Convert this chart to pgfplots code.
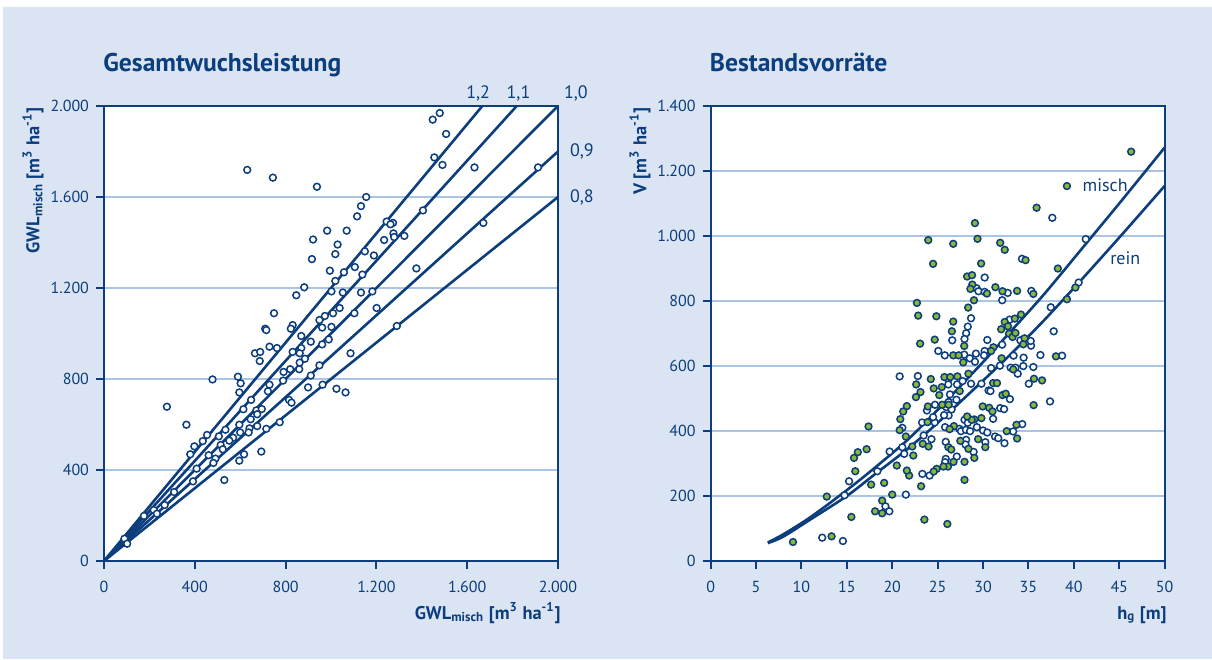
\documentclass[border=0pt]{standalone}
\usepackage{fontspec}
\setmainfont{PT Sans}
\usepackage{pgfplots}
\pgfplotsset{compat=1.18}

\definecolor{dblue}{RGB}{12,62,125}
\definecolor{gridblue}{RGB}{170,196,228}
\definecolor{bgblue}{RGB}{218,228,242}
\definecolor{mgreen}{RGB}{138,184,54}

\pgfplotsset{
  panel/.style={
    scale only axis, width=227bp, height=227.5bp,
    axis line style={dblue, line width=1bp},
    axis background/.style={fill=white},
    tick align=outside, major tick length=4bp,
    every tick/.style={dblue, line width=1bp},
    xtick pos=left, ytick pos=left,
    ymajorgrids, grid style={gridblue, line width=1bp},
    tick label style={font=\fontsize{8bp}{9bp}\selectfont, text=dblue},
    xticklabel style={yshift=-2.5bp},
    clip=false,
  },
  wmark/.style={only marks, mark=*, mark size=1.7bp,
    mark options={fill=white, draw=dblue, line width=0.75bp}},
  gmark/.style={only marks, mark=*, mark size=1.7bp,
    mark options={fill=mgreen, draw=dblue, line width=0.75bp}},
  fitline/.style={dblue, line width=1.3bp, no marks},
}
\tikzset{lbl/.style={font=\fontsize{9bp}{10bp}\selectfont, text=dblue}}

\begin{document}
\begin{tikzpicture}[x=0.5bp,y=0.5bp]
\fill[white] (0,0) rectangle (1212,659);
\fill[bgblue] (3,0) rectangle (1212,652);
\useasboundingbox (0,0) rectangle (1212,659);

% --- Gesamtwuchsleistung ---
\begin{axis}[panel, at={(52bp,49bp)},
  xmin=0, xmax=2000, ymin=0, ymax=2000,
  xtick={0,400,800,1200,1600,2000}, xticklabels={0,400,800,1.200,1.600,2.000},
  ytick={0,400,800,1200,1600,2000}, yticklabels={0,400,800,1.200,1.600,2.000}]
\addplot[fitline] coordinates {(0,0) (1666.7,2000)};
\addplot[fitline] coordinates {(0,0) (1818.2,2000)};
\addplot[fitline] coordinates {(0,0) (2000,2000)};
\addplot[fitline] coordinates {(0,0) (2000,1800)};
\addplot[fitline] coordinates {(0,0) (2000,1600)};
\addplot[wmark] coordinates {
(631,1719) (744,1685) (938,1645) (1155,1600) (1132,1560) (1115,1515)
(983,1452) (1069,1452) (921,1413) (1029,1391) (1019,1349) (916,1327)
(995,1276) (1057,1269) (1105,1292) (1149,1361) (1189,1343) (1138,1259)
(1019,1231) (882,1203) (847,1168) (1002,1185) (1052,1180) (1132,1180)
(1182,1185) (1038,1112) (1201,1112) (1103,1089) (1009,1089) (973,1077)
(949,1059) (1002,1029) (961,1026) (990,974) (961,952) (911,964)
(869,989) (831,1037) (823,1021) (749,1089) (710,1021) (715,1015)
(762,936) (729,942) (831,919) (869,936) (862,913) (665,913)
(688,919) (686,879) (1086,913) (1290,1033) (1376,1286) (1405,1541)
(1245,1492) (1273,1486) (1262,1480) (1275,1440) (1278,1424) (1323,1429)
(1234,1411) (1448,1940) (1479,1969) (1507,1877) (1455,1774) (1491,1741)
(1632,1730) (1671,1486) (1912,1730)
(885,889) (862,872) (791,831) (820,843) (860,843) (789,793)
(949,860) (911,815) (899,763) (963,775) (1024,757) (1064,741)
(729,775) (722,746) (590,810) (602,781) (596,741) (478,798)
(277,678) (363,599) (648,708) (614,667) (671,662) (695,668)
(675,645) (646,623) (596,599) (675,593) (715,581) (641,583)
(637,565) (600,565) (535,577) (454,554) (506,548) (569,542)
(552,529) (435,527) (514,510) (523,491) (398,504) (380,469)
(461,465) (491,450) (482,431) (596,441) (617,469) (693,481)
(774,610) (815,708) (826,696) (408,406) (392,350) (530,356)
(309,303) (267,246) (219,224) (233,208) (176,198) (90,98) (102,76)
};
\node[lbl] at (axis cs:1648,2057) {1,2};
\node[lbl] at (axis cs:1826,2057) {1,1};
\node[lbl] at (axis cs:2079,2057) {1,0};
\node[lbl, anchor=west] at (axis cs:2022,1799) {0,9};
\node[lbl, anchor=west] at (axis cs:2022,1596) {0,8};
\end{axis}

% --- Bestandsvorraete ---
\begin{axis}[panel, at={(355.3bp,49bp)},
  xmin=0, xmax=50, ymin=0, ymax=1400,
  xtick={0,5,...,50}, xticklabels={0,5,10,15,20,25,30,35,40,45,50},
  ytick={0,200,...,1400}, yticklabels={0,200,400,600,800,1.000,1.200,1.400}]
\addplot[fitline, smooth] coordinates {
(6.3,57) (8,82) (11,135) (15,218) (18,285) (21.7,373) (25,465)
(30,612) (33,705) (36.7,820) (41.3,975) (45,1100) (50,1272)};
\addplot[fitline, smooth] coordinates {
(6.3,55) (8,75) (11,128) (15,200) (18,265) (21.7,345) (25,425)
(30,555) (33,635) (36.7,740) (40.5,855) (45,995) (50,1154)};
\addplot[wmark] coordinates {
(34.29,929.7) (30.18,872.2) (29.29,839.3) (29.5,830) (30.18,828) (32.72,824.9)
(35.32,831.1) (32.11,802.3) (28.68,746.9) (28.32,721.2) (28.14,700.6) (27.96,683.1)
(26.61,679) (30.47,680) (32.93,742.7) (34.11,679) (35.29,662.6) (35.25,677)
(32.11,665.7) (30.18,646.2) (25.07,646.2) (25.79,632.8) (27.93,634.9) (29.22,638)
(30.11,632.8) (28.54,623.6) (33.36,631.8) (34.47,625.6) (36.32,633.8)
(37.63,1056) (41.31,990.3) (40.53,856.7) (37.46,780.7) (37.78,706.7) (38.71,631.7)
(37.38,490.9)
(29.11,613.2) (30.89,593.7) (31.86,600.9) (33.04,594.7) (33.57,594.7) (34.43,599.8)
(35.54,596.8) (33.82,576.2) (35.04,545.4) (22.82,569) (26.18,559.8) (26.18,543.3)
(27.14,543.3) (26.36,512.5) (27.07,496.1) (26.21,488.9) (24.71,480.7) (23.82,463.2)
(25.96,473.5) (26.54,466.3) (26.21,447.8) (25.71,448.8) (28.68,545.4) (27.75,553.6)
(29.82,545.4) (30.61,524.8) (30.82,522.8) (32.96,498.1) (31.89,470.4) (32.32,467.3)
(31.11,437.5) (27.96,434.4) (28.32,425.2) (25.82,411.8) (27.39,406.7) (27.57,399.5)
(28.11,403.6) (28.57,399.5) (29.32,411.8) (30.0,401.6) (30.47,395.4) (31.32,383)
(31.68,377.9) (32.36,362.5) (33.32,398.5) (34.32,421.1) (30.25,365.6) (28.14,372.8)
(28.07,358.4) (28.96,335.8) (25.89,366.6) (27.11,321.4) (25.89,314.2) (25.82,304)
(24.11,262.9) (23.32,268) (23.46,386.2) (24.32,374.9) (24.68,426.2) (24.5,442.7)
(23.29,426.2)
(20.82,568) (21.11,409.8) (19.71,336.8) (21.11,350.2) (21.32,329.7) (21.5,204.3)
(18.36,276.2) (15.25,245.4) (14.75,202.3) (19.25,168.4) (19.68,152.9) (12.29,71.8)
(14.57,61.5)
};
\addplot[gmark] coordinates {
(35.9,1087) (29.11,1039.6) (23.97,987.2) (26.72,975.9) (29.39,991.3) (31.89,979)
(32.39,957.4) (24.5,914.3) (29.79,915.3) (34.68,925.6) (28.25,875.3) (28.79,879.4)
(28.82,850.6) (28.61,837.2) (30.43,822.9) (29.0,802.3) (31.36,842.4) (32.14,830)
(33.75,831.1) (35.54,821.8) (22.72,794.1) (22.86,755) (24.86,753) (28.36,779.7)
(26.72,736.6) (26.57,706.8) (24.68,681.1) (27.93,661.6) (23.07,668.8) (32.39,735.5)
(33.5,745.8) (34.18,758.1) (32.0,713) (32.75,722.2) (32.86,699.6) (33.25,689.3)
(33.57,701.6) (34.57,685.2) (34.43,666.7) (31.14,657.5) (30.89,646.2) (26.72,632.8)
(27.32,632.8) (32.04,623.6)
(46.31,1259.4) (39.24,1153.6) (38.24,899.9) (40.17,841.3) (39.24,805.4) (38.03,629.7)
(27.82,611.1) (33.32,589.6) (35.61,560.8) (36.5,555.7) (35.57,479.6) (24.25,559.8)
(25.75,565.9) (26.39,565.9) (27.18,568) (28.39,576.2) (22.64,543.3) (23.11,519.7)
(22.61,504.3) (24.57,531) (25.46,535.1) (27.43,522.8) (25.18,510.5) (25.5,480.7)
(26.21,480.7) (23.93,475.5) (31.11,547.4) (31.54,547.4) (32.14,510.5) (32.5,514.6)
(29.96,475.5) (30.68,471.4) (31.04,460.1) (29.82,439.6) (29.04,435.5) (28.75,434.4)
(28.25,444.7) (26.79,414.9) (26.32,405.7) (32.61,399.5) (33.68,419) (33.75,376.9)
(29.46,374.9) (30.25,350.2) (27.5,369.7) (28.39,345.1) (29.04,317.3) (26.18,350.2)
(26.5,343) (26.75,305) (26.14,290.6) (25.64,290.6) (24.89,283.4) (24.57,275.2)
(27.96,305) (27.96,249.5) (23.18,230) (23.54,127.3) (26.07,113.9) (22.21,352.3)
(22.32,324.5) (21.86,262.9) (23.36,360.5) (24.0,352.3) (23.89,427.3)
(21.61,476.6) (21.21,460.1) (20.89,436.5) (20.82,402.6) (21.5,383) (17.39,413.9)
(17.18,344) (16.21,334.8) (15.79,317.3) (15.93,276.2) (20.5,293.7) (21.61,278.3)
(12.79,198.2) (17.68,235.1) (19.11,240.3) (20.0,204.3) (18.89,185.8) (18.11,152.9)
(18.89,146.8) (15.5,135.5) (13.32,75.9) (9.07,58.4)
};
\node[lbl] at (axis cs:43.45,1157) {misch};
\node[lbl] at (axis cs:45.67,931) {rein};
\end{axis}

% titles and axis labels
\begin{scope}[every node/.style={text=dblue, inner sep=0pt, font=\bfseries\fontsize{9.2bp}{11bp}\selectfont}]
\node[anchor=base west, font=\bfseries\fontsize{12.8bp}{14bp}\selectfont] at (103,587.3) {Gesamtwuchsleistung};
\node[anchor=base west, font=\bfseries\fontsize{12.8bp}{14bp}\selectfont] at (709.5,587.3) {Bestandsvorräte};
\node[rotate=90, anchor=east] at (33,552) {GWL\textsubscript{misch} [m\textsuperscript{3} ha\textsuperscript{-1}]};
\node[rotate=90, anchor=east] at (640,552) {V [m\textsuperscript{3} ha\textsuperscript{-1}]};
\node[anchor=base east] at (561,40) {GWL\textsubscript{misch} [m\textsuperscript{3} ha\textsuperscript{-1}]};
\node[anchor=base east] at (1167,40) {h\textsubscript{g} [m]};
\end{scope}
\end{tikzpicture}
\end{document}
